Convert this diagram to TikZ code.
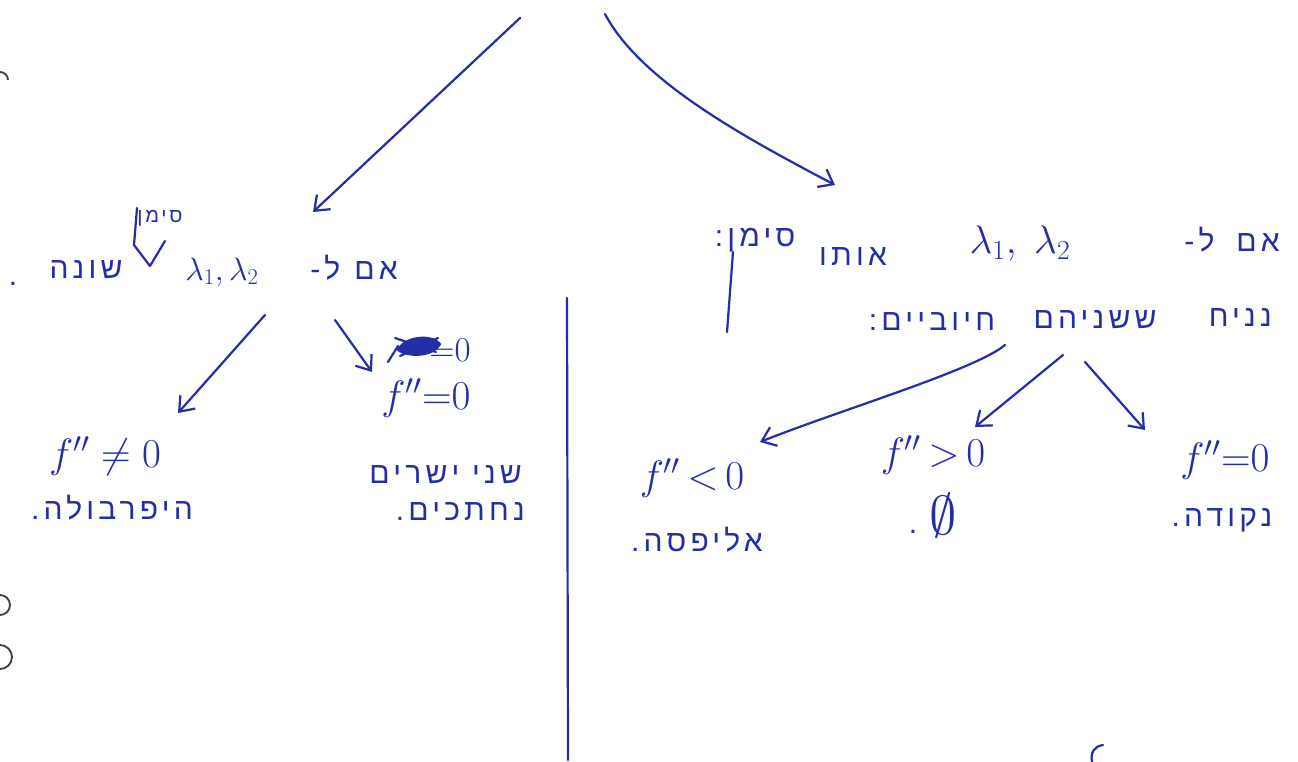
\documentclass[tikz,border=0pt]{standalone}
\usepackage{fontspec}
\usepackage{graphicx}
\setmainfont{Liberation Sans}
\newfontfamily\heb[Script=Hebrew,LetterSpace=14]{Liberation Sans}
\TeXXeTstate=1
\usetikzlibrary{arrows.meta}
\definecolor{ink}{RGB}{35,45,165}
\definecolor{edgecol}{RGB}{60,60,70}
\newcommand\mscale[2][1.65]{\scalebox{#1}{#2}}
\begin{document}
\begin{tikzpicture}[x=1pt,y=-1pt,
  pen/.style={draw=ink, line width=2.2pt, line cap=round, line join=round},
  arr/.style={pen, -{Straight Barb[length=13pt,width=20pt,line width=2.2pt]}},
  txt/.style={text=ink, font=\heb\fontsize{30}{34}\selectfont, inner sep=0pt},
  small/.style={text=ink, font=\heb\fontsize{20}{24}\selectfont, inner sep=0pt},
  mth/.style={text=ink, font=\fontsize{24}{28}\selectfont, inner sep=0pt},
  edgemark/.style={draw=edgecol, line width=1.8pt}
  ]
\useasboundingbox[fill=white] (0,0) rectangle (1298,762);

% left header
\node[txt, anchor=east] (hdrLa) at (398,268) {\beginR אם\hspace{14pt}ל-\endR};
\node[mth] (hdrLb) at (222,272) {\mscale[1.3]{$\lambda_1,\lambda_2$}};
\node[small] (simanL) at (160,218) {\beginR סימן\endR};
\node[txt] (hdrLc) at (86,270) {\beginR שונה\endR};
\node[txt] (hdrLd) at (13,284) {.};

% right header
\node[txt, anchor=east] (hdrRa) at (1280,240) {\beginR אם\hspace{22pt}ל-\endR};
\node[mth] (hdrRb) at (1020,244) {\mscale[1.6]{$\lambda_1,\;\lambda_2$}};
\node[txt] (hdrRc) at (853,257) {\beginR אותו\endR};
\node[txt] (hdrRd) at (755,240) {\beginR סימן:\endR};
\node[txt, anchor=east] (hdrRe) at (1272,318) {\beginR נניח\endR};
\node[txt] (hdrRf) at (1095,320) {\beginR ששניהם\endR};
\node[txt] (hdrRg) at (932,322) {\beginR חיוביים:\endR};

% left leaves
\node[mth] (hypA) at (105,456) {\mscale{$f''\;{\neq}\;0$}};
\node[txt] (hypB) at (112,508) {\beginR היפרבולה.\endR};
\node[mth] (crossA) at (450,350) {\mscale[1.4]{${=}0$}};
\node[mth] (linA) at (426,398) {\mscale{$f''{=}0$}};
\node[txt, anchor=east] (linB) at (522,475) {\beginR שני ישרים\endR};
\node[txt, anchor=east] (linC) at (525,512) {\beginR נחתכים.\endR};

% right leaves
\node[mth] (ellA) at (692,478) {\mscale{$f''\,{<}\,0$}};
\node[txt] (ellB) at (697,540) {\beginR אליפסה.\endR};
\node[mth] (empA) at (933,455) {\mscale{$f''\,{>}\,0$}};
\node[mth] (empB) at (943,515) {\mscale[2.2]{$\emptyset$}};
\node[txt] (empC) at (913,532) {.};
\node[mth] (ptA) at (1225,460) {\mscale{$f''{=}0$}};
\node[txt] (ptB) at (1222,520) {\beginR נקודה.\endR};

% scribble over crossed-out text
\draw[pen, fill=ink] (398,350) .. controls (405,336) and (432,334) .. (440,344)
  .. controls (434,356) and (410,358) .. (398,350);
\draw[pen] (395,338) -- (436,352) (400,356) -- (438,338) (388,362) -- (398,346);

% caret
\draw[pen] (137,208) -- (134,245) -- (150,266) -- (165,241);

% named free ends
\coordinate (rootL) at (520,18);
\coordinate (rootR) at (605,14);
\coordinate (tipL) at (313,212);
\coordinate (tipR) at (835,185);
\coordinate (sL1) at (265,315);
\coordinate (eL1) at (178,413);
\coordinate (sL2) at (335,320);
\coordinate (eL2) at (372,372);
\coordinate (sR1) at (1005,345);
\coordinate (eR1) at (760,442);
\coordinate (sR2) at (1063,355);
\coordinate (eR2) at (975,427);
\coordinate (sR3) at (1085,362);
\coordinate (eR3) at (1145,430);

% connectors
\draw[arr] (rootL) -- (tipL);
\draw[arr] (rootR) .. controls (640,80) and (740,135) .. (tipR);
\draw[arr] (sL1) -- (eL1);
\draw[arr] (sL2) -- (eL2);
\draw[arr] (sR1) .. controls (975,370) and (840,410) .. (eR1);
\draw[arr] (sR2) -- (eR2);
\draw[arr] (sR3) -- (eR3);

% separators / long descender
\coordinate (vTop) at (567,298);
\coordinate (vBot) at (568,760);
\draw[pen] (vTop) -- (vBot);
\coordinate (bTop) at (733,252);
\coordinate (bBot) at (727,332);
\draw[pen] (bTop) -- (bBot);

% page-edge marks
\draw[edgemark] (0,72) arc[start angle=90, end angle=0, radius=8pt];
\draw[edgemark] (0,595) arc[start angle=90, end angle=-90, radius=10pt];
\draw[edgemark] (0,645) arc[start angle=90, end angle=-90, radius=12pt];
\draw[pen] (1092,762) .. controls (1090,752) and (1095,746) .. (1103,745);
\end{tikzpicture}
\end{document}
